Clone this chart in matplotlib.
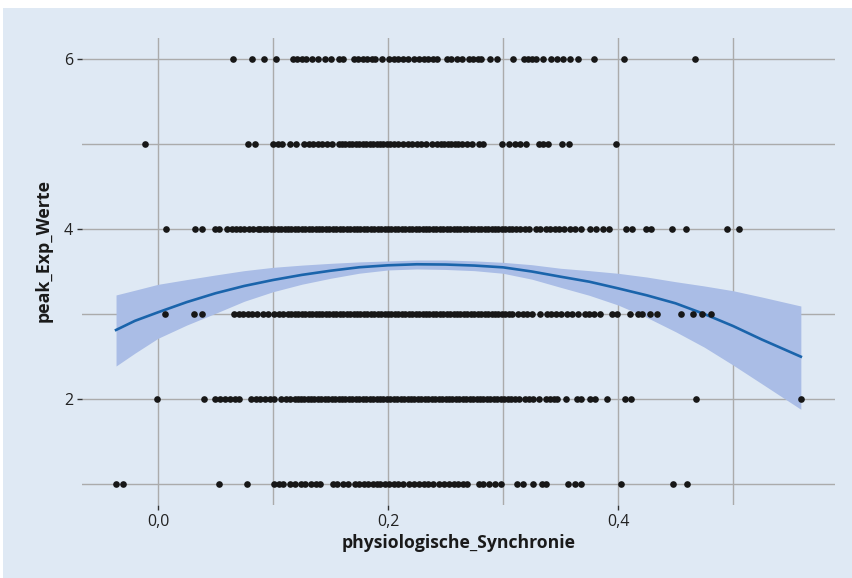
import numpy as np
import matplotlib
matplotlib.use("Agg")
import matplotlib.pyplot as plt
import matplotlib.patches as patch

plt.rcParams['font.family'] = ['Open Sans', 'DejaVu Sans']

# x values of the points on each answer level
level6 = [0.0655, 0.082, 0.092, 0.103, 0.117, 0.121, 0.125, 0.129, 0.134, 0.139,
          0.145, 0.150, 0.157, 0.161, 0.170, 0.174, 0.178, 0.182, 0.186, 0.189,
          0.195, 0.201, 0.205, 0.209, 0.213, 0.217, 0.223, 0.227, 0.231, 0.235,
          0.239, 0.243, 0.251, 0.255, 0.260, 0.264, 0.270, 0.274, 0.278, 0.281,
          0.289, 0.295, 0.309, 0.318, 0.322, 0.325, 0.329, 0.3345, 0.342, 0.347,
          0.352, 0.358, 0.365, 0.379, 0.405, 0.467]
level5 = [-0.0113, 0.0786, 0.084, 0.100, 0.104, 0.108, 0.115, 0.120, 0.127, 0.131,
          0.135, 0.139, 0.143, 0.147, 0.151, 0.157, 0.160, 0.163, 0.166, 0.169,
          0.172, 0.175, 0.178, 0.181, 0.184, 0.187, 0.190, 0.193, 0.196, 0.199,
          0.202, 0.205, 0.209, 0.213, 0.217, 0.221, 0.225, 0.229, 0.233, 0.238,
          0.243, 0.246, 0.249, 0.252, 0.255, 0.258, 0.261, 0.264, 0.269, 0.273,
          0.279, 0.283, 0.299, 0.305, 0.310, 0.315, 0.320, 0.331, 0.335, 0.339,
          0.351, 0.357, 0.398]
level4 = [0.0067, 0.032, 0.0385, 0.0496, 0.053, 0.060, 0.064, 0.068, 0.071, 0.075,
          0.079, 0.083, 0.087, 0.089, 0.092, 0.095, 0.098, 0.101, 0.104, 0.107,
          0.110, 0.113, 0.116, 0.119, 0.122, 0.125, 0.128, 0.131, 0.134, 0.137,
          0.140, 0.143, 0.146, 0.149, 0.152, 0.155, 0.158, 0.161, 0.164, 0.167,
          0.170, 0.173, 0.176, 0.179, 0.182, 0.185, 0.188, 0.191, 0.194, 0.197,
          0.200, 0.203, 0.206, 0.209, 0.212, 0.215, 0.218, 0.221, 0.224, 0.227,
          0.230, 0.233, 0.236, 0.239, 0.242, 0.245, 0.248, 0.251, 0.254, 0.257,
          0.260, 0.263, 0.266, 0.269, 0.272, 0.275, 0.278, 0.281, 0.284, 0.287,
          0.290, 0.293, 0.296, 0.299, 0.302, 0.305, 0.308, 0.311, 0.315, 0.319,
          0.323, 0.329, 0.332, 0.337, 0.341, 0.345, 0.349, 0.353, 0.358, 0.363,
          0.368, 0.376, 0.381, 0.387, 0.392, 0.407, 0.412, 0.424, 0.429, 0.447,
          0.459, 0.495, 0.505]
level3 = [0.0064, 0.0316, 0.038, 0.066, 0.070, 0.074, 0.078, 0.082, 0.086, 0.091,
          0.096, 0.101, 0.105, 0.109, 0.113, 0.116, 0.119, 0.122, 0.125, 0.128,
          0.131, 0.134, 0.137, 0.140, 0.143, 0.146, 0.149, 0.152, 0.155, 0.158,
          0.161, 0.164, 0.167, 0.170, 0.173, 0.176, 0.179, 0.182, 0.185, 0.188,
          0.191, 0.194, 0.197, 0.200, 0.203, 0.206, 0.209, 0.212, 0.215, 0.218,
          0.221, 0.224, 0.227, 0.230, 0.233, 0.236, 0.239, 0.242, 0.245, 0.248,
          0.251, 0.254, 0.257, 0.260, 0.263, 0.266, 0.269, 0.272, 0.275, 0.278,
          0.281, 0.284, 0.287, 0.290, 0.293, 0.296, 0.299, 0.302, 0.305, 0.308,
          0.313, 0.317, 0.321, 0.325, 0.332, 0.338, 0.342, 0.346, 0.350, 0.356,
          0.360, 0.365, 0.371, 0.375, 0.379, 0.384, 0.395, 0.399, 0.4104, 0.417,
          0.421, 0.428, 0.434, 0.455, 0.465, 0.473, 0.481]
level2 = [-0.001, 0.040, 0.0496, 0.0539, 0.0583, 0.0626, 0.067, 0.070, 0.081, 0.085,
          0.089, 0.093, 0.097, 0.101, 0.107, 0.111, 0.115, 0.119, 0.122, 0.124,
          0.127, 0.130, 0.133, 0.136, 0.139, 0.142, 0.145, 0.148, 0.151, 0.154,
          0.157, 0.160, 0.163, 0.166, 0.169, 0.172, 0.175, 0.178, 0.181, 0.184,
          0.187, 0.190, 0.193, 0.196, 0.199, 0.202, 0.205, 0.208, 0.211, 0.214,
          0.217, 0.220, 0.223, 0.226, 0.229, 0.232, 0.235, 0.238, 0.241, 0.244,
          0.247, 0.250, 0.253, 0.256, 0.259, 0.262, 0.265, 0.268, 0.271, 0.274,
          0.277, 0.280, 0.283, 0.286, 0.289, 0.292, 0.295, 0.298, 0.301, 0.304,
          0.307, 0.310, 0.314, 0.319, 0.323, 0.326, 0.3316, 0.337, 0.341, 0.344,
          0.347, 0.355, 0.364, 0.368, 0.376, 0.380, 0.390, 0.406, 0.411, 0.468,
          0.559]
level1 = [-0.0365, -0.0307, 0.053, 0.0777, 0.101, 0.105, 0.109, 0.115, 0.119, 0.124,
          0.128, 0.133, 0.137, 0.141, 0.152, 0.156, 0.161, 0.165, 0.171, 0.175,
          0.179, 0.183, 0.187, 0.190, 0.193, 0.197, 0.201, 0.205, 0.209, 0.213,
          0.218, 0.223, 0.227, 0.231, 0.235, 0.239, 0.244, 0.249, 0.253, 0.257,
          0.261, 0.265, 0.269, 0.279, 0.283, 0.288, 0.293, 0.298, 0.312, 0.3177,
          0.3263, 0.334, 0.337, 0.3568, 0.3626, 0.368, 0.403, 0.448, 0.4597]

levels = [6, 5, 4, 3, 2, 1]
level_x = [level6, level5, level4, level3, level2, level1]

# quadratic fit with confidence band
fit_x = [-0.0365, -0.02, 0.0, 0.025, 0.05, 0.075, 0.10, 0.125, 0.15, 0.175, 0.20,
         0.225, 0.25, 0.275, 0.30, 0.325, 0.35, 0.375, 0.40, 0.425, 0.45, 0.475,
         0.50, 0.525, 0.559]
fit_y = [2.812, 2.92, 3.02, 3.14, 3.244, 3.33, 3.40, 3.46, 3.509, 3.55, 3.573,
         3.585, 3.582, 3.57, 3.549, 3.50, 3.439, 3.38, 3.302, 3.22, 3.126, 3.00,
         2.859, 2.70, 2.498]
fit_lo = [2.388, 2.54, 2.714, 2.87, 3.008, 3.15, 3.262, 3.35, 3.420, 3.48, 3.518,
          3.53, 3.524, 3.51, 3.479, 3.41, 3.314, 3.22, 3.106, 2.96, 2.792, 2.61,
          2.40, 2.18, 1.879]
fit_hi = [3.224, 3.28, 3.349, 3.405, 3.459, 3.51, 3.549, 3.575, 3.596, 3.613, 3.624,
          3.635, 3.635, 3.625, 3.608, 3.58, 3.538, 3.51, 3.479, 3.435, 3.380, 3.33,
          3.274, 3.20, 3.094]

xticks = [0.0, 0.2, 0.4]
xticklabels = ['0,0', '0,2', '0,4']
yticks = [2, 4, 6]

bg = '#dfe9f4'

fig = plt.figure(figsize=(8.53, 5.78), dpi=100)
fig.patch.set_facecolor('white')
# light blue panel behind everything (white strip at top and left)
fig.patches.append(patch.Rectangle((3/853, 0), 1, 1 - 8/578, transform=fig.transFigure,
                                   facecolor=bg, edgecolor='none', zorder=-10))

ax = fig.add_axes([82/853, 1 - 505/578, (835-82)/853, (505-38)/578])
ax.set_facecolor(bg)
for s in ax.spines.values():
    s.set_visible(False)

ax.fill_between(fit_x, fit_lo, fit_hi, color='#aabde6', lw=0, zorder=2)
ax.plot(fit_x, fit_y, color='#1a64ab', lw=1.9, zorder=3)
for lev, xs in zip(levels, level_x):
    ax.plot(xs, [lev]*len(xs), 'o', color='#171717', ms=4.8, mew=0, zorder=4)

ax.set_xlim(-0.0661, 0.5887)
ax.set_ylim(0.753, 6.247)

ax.set_xticks(xticks)
ax.set_xticklabels(xticklabels)
ax.set_xticks([0.1, 0.3, 0.5], minor=True)
ax.set_yticks(yticks)
ax.set_yticks([1, 3, 5], minor=True)
ax.grid(True, which='both', color='#ababab', lw=1.0, zorder=1)
ax.set_axisbelow(True)
ax.tick_params(which='major', length=3.5, width=1, color='#333333', labelsize=11.5,
               labelcolor='#222222', pad=3)
ax.tick_params(which='minor', length=0)

ax.set_xlabel('physiologische_Synchronie', fontsize=12.7, fontweight='bold', color='#1a1a1a')
ax.set_ylabel('peak_Exp_Werte', fontsize=12.8, fontweight='bold', color='#1a1a1a')
ax.xaxis.set_label_coords(0.5, -0.063)
ax.yaxis.set_label_coords(-0.039, 0.544)

fig.savefig('out.png', dpi=100, facecolor=fig.get_facecolor())
